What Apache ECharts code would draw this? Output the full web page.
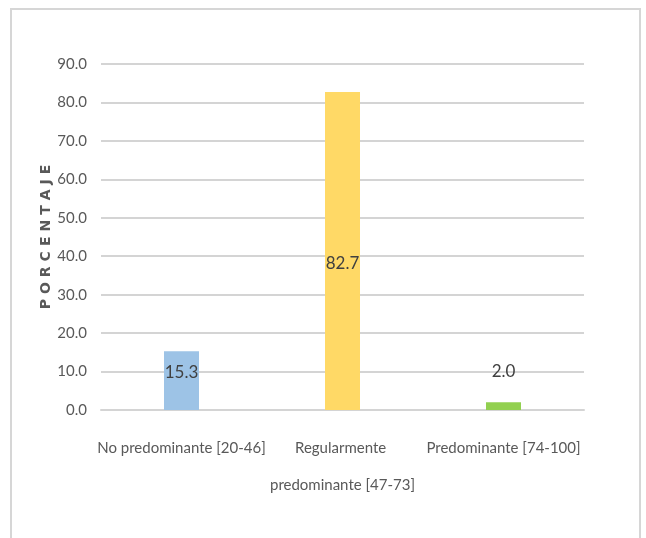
<!DOCTYPE html>
<html>
<head>
<meta charset="utf-8">
<script src="https://cdn.jsdelivr.net/npm/echarts@6/dist/echarts.min.js"></script>
<style>
html,body{margin:0;padding:0;background:#fff;}
#chart{width:646px;height:538px;}
</style>
</head>
<body>
<div id="chart"></div>
<script>
const categories = ['No predominante [20-46]', 'Regularmente predominante [47-73]', 'Predominante [74-100]'];
const values = [15.3, 82.7, 2.0];
const yTicks = [0, 10, 20, 30, 40, 50, 60, 70, 80, 90];
const yName = 'PORCENTAJE';

const barColors = ['#9DC3E6', '#FFD966', '#92D050'];
const labelPlacement = [
  { position: 'insideTop', offset: [0, 8] },
  { position: 'inside', offset: [0, 12] },
  { position: 'top', offset: [0, -17] }
];
const FONT = 'Lato, "Liberation Sans Narrow", sans-serif';

const chart = echarts.init(document.getElementById('chart'));
const spacedName = yName.split('').map(c => '{s|' + c + '}').join('');

chart.setOption({
  animation: false,
  backgroundColor: '#ffffff',
  graphic: [{
    type: 'rect',
    shape: { x: 11, y: 9, width: 629, height: 600 },
    style: { fill: 'none', stroke: '#d6d6d6', lineWidth: 2 },
    silent: true
  }, {
    type: 'text',
    x: 46,
    y: 237,
    rotation: Math.PI / 2,
    silent: true,
    style: {
      text: spacedName,
      align: 'center',
      verticalAlign: 'middle',
      fill: '#595959',
      fontFamily: '"DejaVu Sans", sans-serif',
      fontWeight: 'bold',
      fontSize: 14,
      rich: {
        s: { fontFamily: '"DejaVu Sans", sans-serif', fontWeight: 'bold', fontSize: 14, fill: '#595959', padding: [0, 2.5] }
      }
    }
  }],
  grid: { left: 101, right: 62, top: 64, bottom: 128, outerBoundsMode: 'none', containLabel: false },
  xAxis: {
    type: 'category',
    data: categories,
    axisLine: { show: true, lineStyle: { color: '#d4d4d4', width: 2 } },
    axisTick: { show: false },
    axisLabel: {
      color: '#595959',
      fontFamily: FONT,
      fontSize: 15,
      lineHeight: 37,
      margin: 20,
      width: 178,
      overflow: 'break',
      interval: 0
    }
  },
  yAxis: {
    type: 'value',
    min: yTicks[0],
    max: yTicks[yTicks.length - 1],
    interval: 10,
    axisLine: { show: false },
    axisTick: { show: false },
    axisLabel: {
      color: '#595959',
      fontFamily: FONT,
      fontSize: 15,
      margin: 14,
      formatter: v => v.toFixed(1)
    },
    splitLine: { lineStyle: { color: '#d4d4d4', width: 2 } }
  },
  series: [{
    type: 'bar',
    barWidth: 35,
    data: values.map((v, i) => ({
      value: v,
      itemStyle: { color: barColors[i] },
      label: labelPlacement[i]
    })),
    label: {
      show: true,
      color: '#404040',
      fontFamily: FONT,
      fontSize: 17,
      formatter: p => p.value.toFixed(1)
    }
  }]
});
</script>
</body>
</html>
